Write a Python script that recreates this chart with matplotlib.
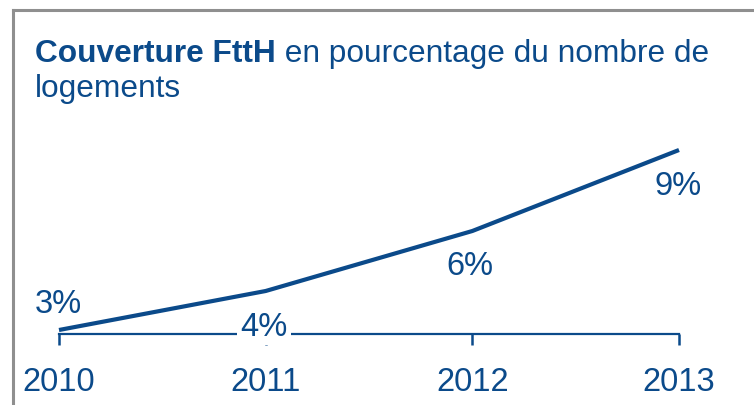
import matplotlib.pyplot as plt
from matplotlib.lines import Line2D

years = [2010, 2011, 2012, 2013]
coverage = [3.0, 4.3, 6.3, 9.0]
labels = ['3%', '4%', '6%', '9%']
# label offsets in pixels from the point (dx, dy)
label_offsets = [(-1, 18), (-2, -44), (-2, -43), (-1, -44)]

blue = '#0b4a8a'
grey = '#8f8f8f'

plt.rcParams['font.family'] = ['Liberation Sans', 'DejaVu Sans']

W, H = 754, 406
fig = plt.figure(figsize=(W / 100, H / 100), dpi=100)

# axes: x 2010 -> 59 px, 2013 -> 679 px; bottom spine at 335 px, top at 125 px
ax = fig.add_axes([59 / W, (H - 335) / H, 620 / W, 210 / H])
px_per_pct = 30
ybot = 3.0 - 4 / px_per_pct
ax.set_xlim(2010, 2013)
ax.set_ylim(ybot, ybot + 210 / px_per_pct)

ax.plot(years, coverage, color=blue, lw=3, solid_capstyle='butt', clip_on=False, zorder=3)

for sp in ['top', 'right', 'left']:
    ax.spines[sp].set_visible(False)
ax.spines['bottom'].set_color(blue)
ax.spines['bottom'].set_linewidth(1.6)
ax.set_yticks([])
ax.set_xticks(years)
ax.set_xticklabels([str(y) for y in years])
ax.tick_params(axis='x', direction='out', length=8, width=1.8, color=blue,
               labelcolor=blue, labelsize=23.5, pad=15)
ax.patch.set_visible(False)

for i, (x, v) in enumerate(zip(years, coverage)):
    dx, dy = label_offsets[i]
    kw = {}
    if i == 1:
        kw['bbox'] = dict(boxstyle='square,pad=0.1', fc='white', ec='none')
    ax.annotate(labels[i], xy=(x, v), xytext=(dx, dy), textcoords='offset pixels',
                ha='center', va='baseline', fontsize=23.5, color=blue,
                annotation_clip=False, zorder=5, **kw)

# title
t1 = fig.text(35 / W, (H - 62) / H, 'Couverture FttH', fontsize=22.8, fontweight='bold',
              color=blue, ha='left', va='baseline')
ax.annotate(' en pourcentage du nombre de', xy=(1, 0), xycoords=t1, ha='left', va='bottom',
            fontsize=22.8, color=blue, annotation_clip=False)
fig.text(35 / W, (H - 97) / H, 'logements', fontsize=22.8, color=blue, ha='left', va='baseline')

# frame (top and left edges only visible)
fig.add_artist(Line2D([13 / W, 1.0], [(H - 11) / H] * 2, color=grey, lw=2.2))
fig.add_artist(Line2D([13 / W] * 2, [0, (H - 11) / H], color=grey, lw=2.2))

fig.savefig('out.png', dpi=100)
